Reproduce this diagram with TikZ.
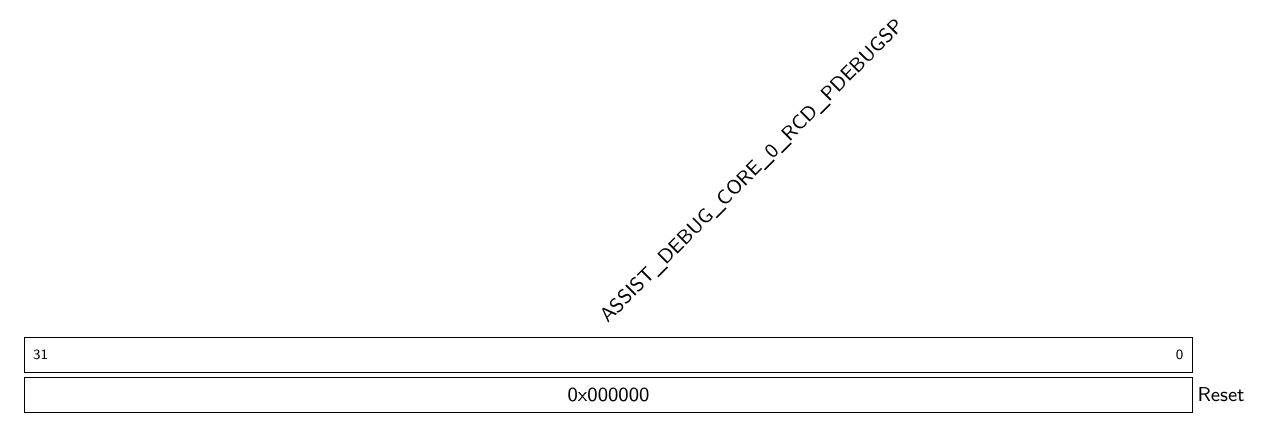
\documentclass[tikz,border=0pt]{standalone}
\usepackage{tikz}
\usetikzlibrary{positioning}
\renewcommand{\familydefault}{\sfdefault}

\begin{document}
\begin{tikzpicture}[font=\sffamily\small,
field/.style={draw, thin, minimum width=18.37cm, minimum height=0.555cm, inner sep=0pt},
bitnum/.style={font=\sffamily\fontsize{6.3}{7}\selectfont, inner sep=0pt},
regname/.style={font=\sffamily\small, rotate=45, anchor=base west, inner sep=0pt}]
\useasboundingbox (0,0) rectangle (20,6.91);
\node[field] (bits) at (9.575,1.33) {};
\node[field] (value) at (9.575,0.70) {0x000000};
\node[bitnum, anchor=west] (msb) at ([xshift=0.13cm]bits.west) {31};
\node[bitnum, anchor=east] (lsb) at ([xshift=-0.14cm]bits.east) {0};
\node[regname] (name) at (9.56,1.81) {ASSIST\_DEBUG\_CORE\_0\_RCD\_PDEBUGSP};
\node[right=0.07cm of value, inner sep=0pt] (reset) {Reset};
\end{tikzpicture}
\end{document}
